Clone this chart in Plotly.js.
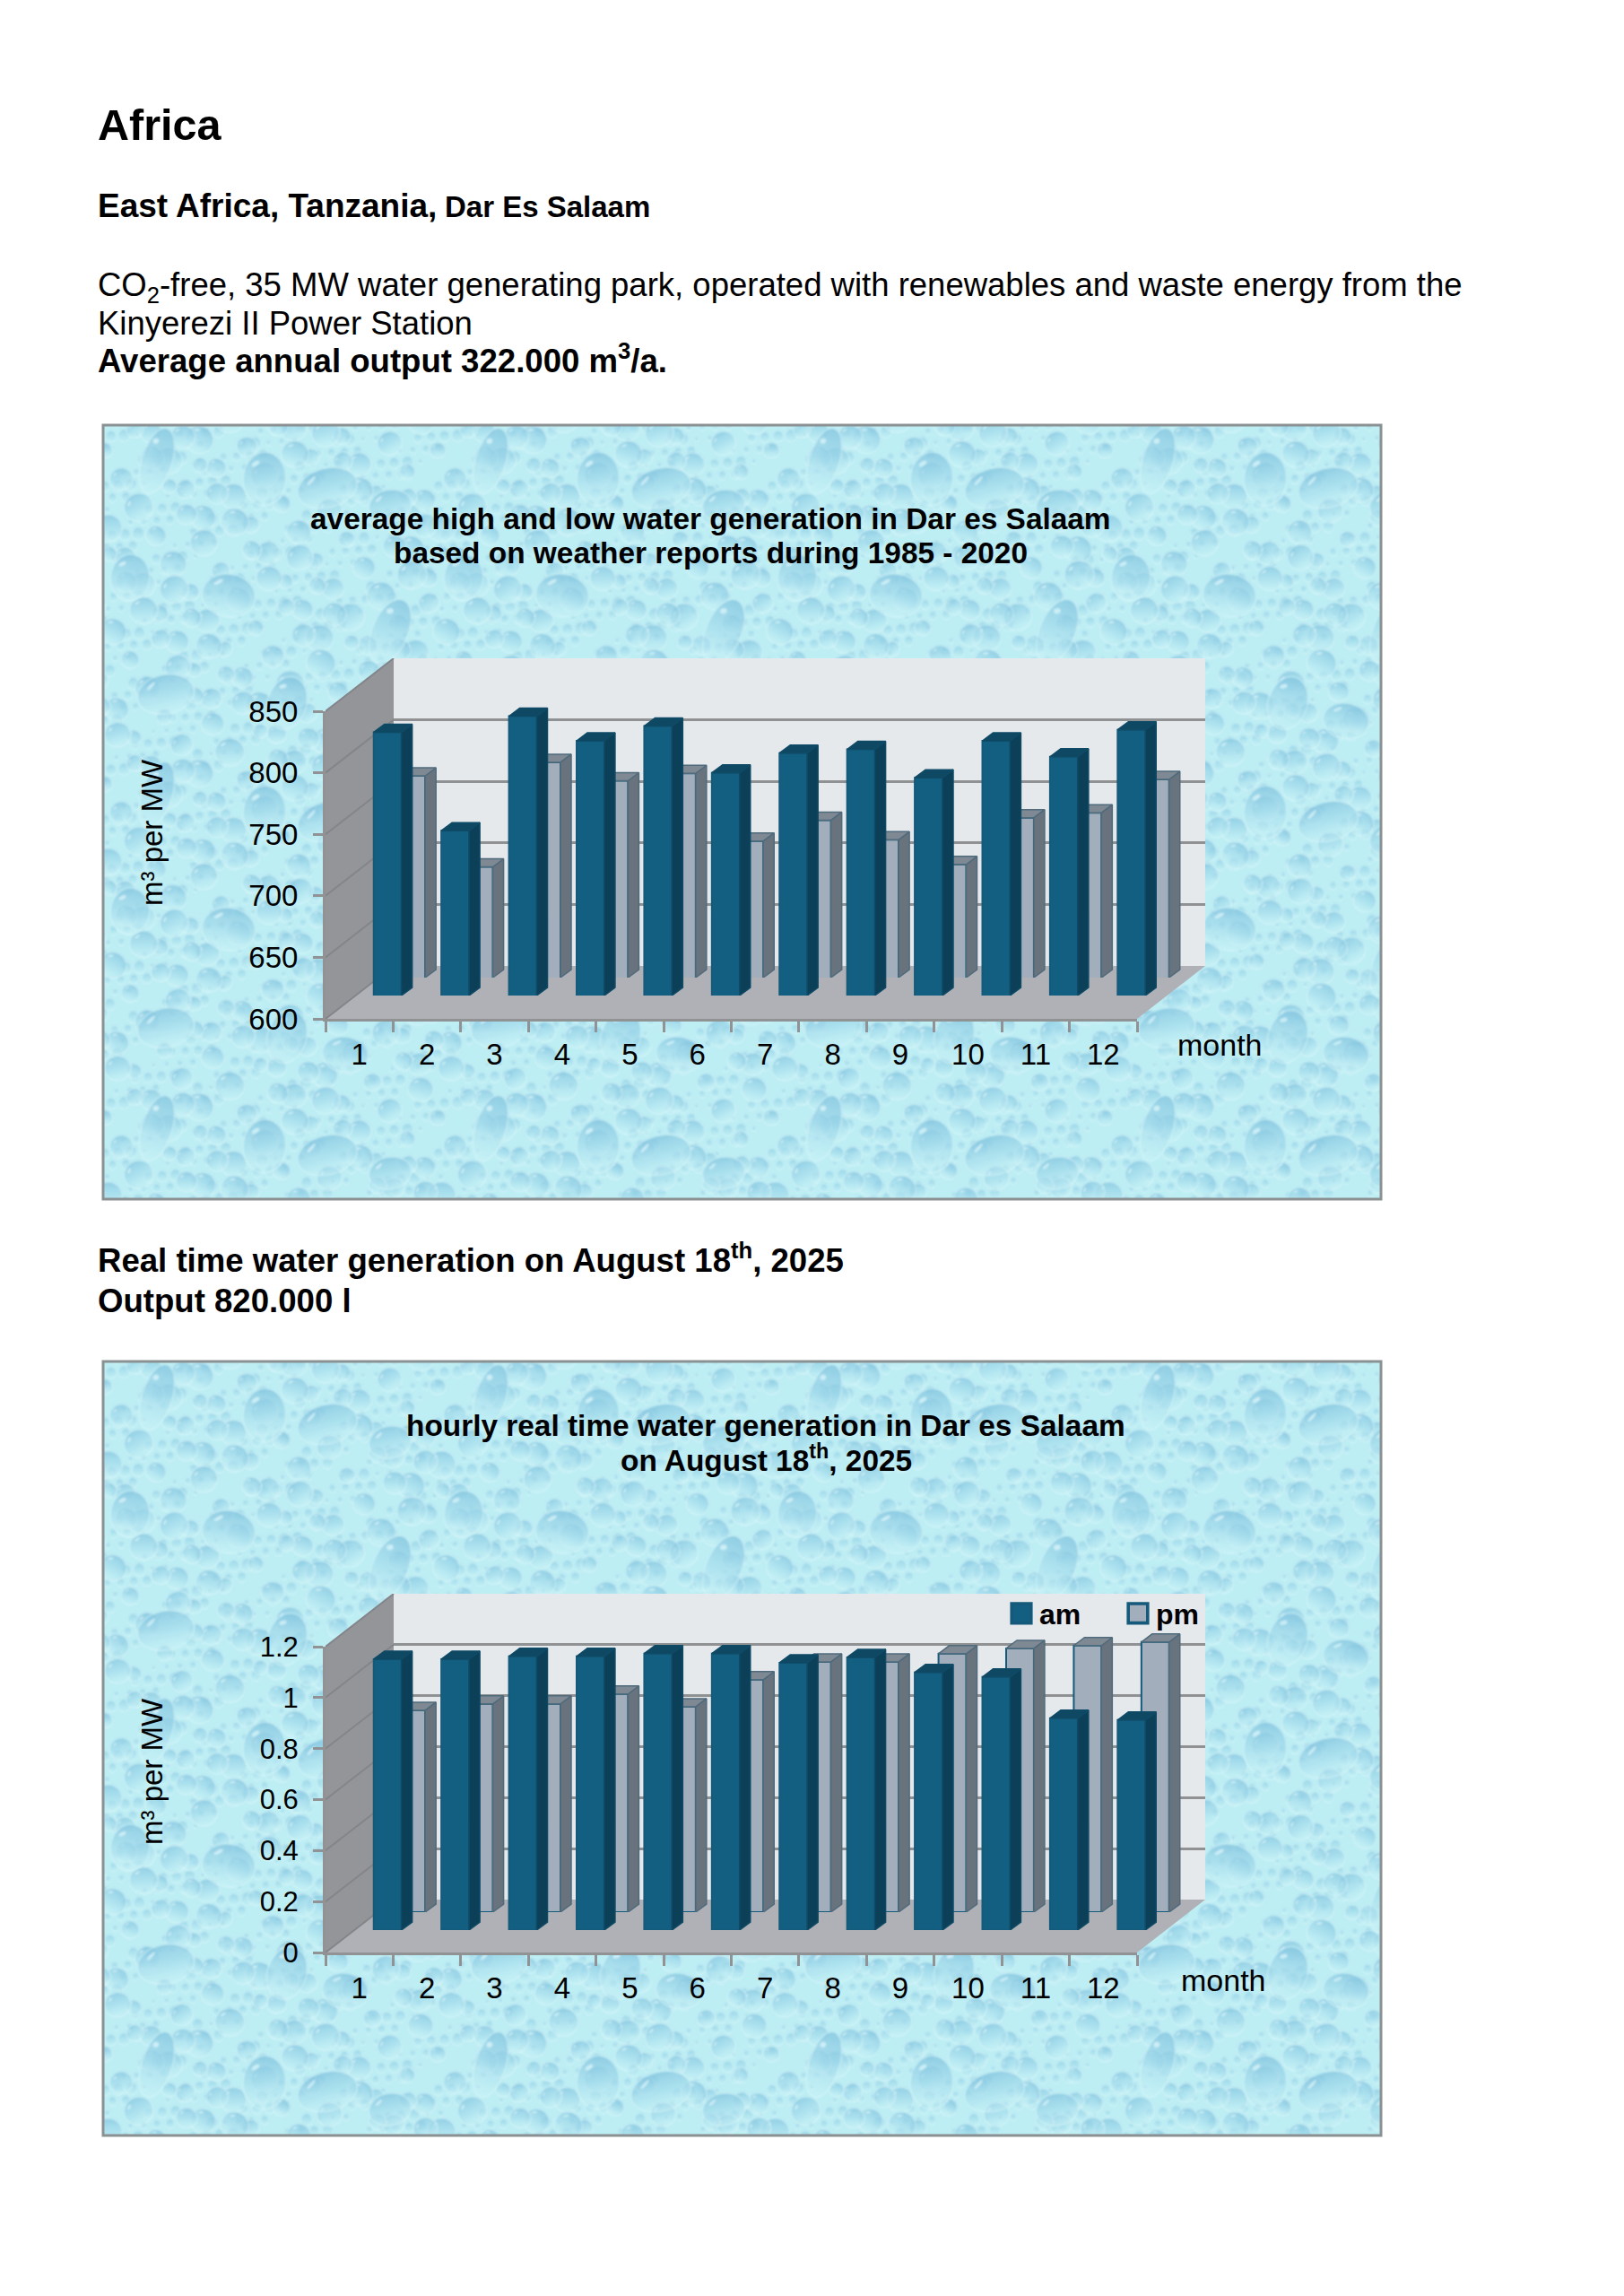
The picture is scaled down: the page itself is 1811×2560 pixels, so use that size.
<!DOCTYPE html>
<html><head><meta charset="utf-8">
<script src="https://cdn.plot.ly/plotly-3.0.1.min.js"></script>
<style>html,body{margin:0;padding:0;background:#fff}#c{width:1811px;height:2560px}</style>
</head><body><div id="c"></div>
<script>
const months=[1,2,3,4,5,6,7,8,9,10,11,12];
const monthLabels=['1','2','3','4','5','6','7','8','9','10','11','12'];
const chart1High=[814,734,827,807,819,781,797,800,777,807,794,816];
const chart1Low=[764,690,775,760,766,711,728,712,692,730,734,761];
const chart2Am=[1.063,1.063,1.074,1.074,1.085,1.085,1.049,1.07,1.011,0.993,0.831,0.824];
const chart2Pm=[0.792,0.817,0.817,0.856,0.806,0.912,0.982,0.982,1.014,1.035,1.046,1.06];
const chart1Ticks=[600,650,700,750,800,850];
const chart2Ticks=[0,0.2,0.4,0.6,0.8,1,1.2];
const chart2TickText=['0','0.2','0.4','0.6','0.8','1','1.2'];

const W=1811,H=2560,FONT='"Liberation Sans", Arial, sans-serif';
const px=x=>x/W, py=y=>1-y/H;

// decorative water-drop background, deterministic (not data)
function texture(w,h){
  const T=372, tile=document.createElement('canvas');tile.width=T;tile.height=T;
  const g=tile.getContext('2d');
  g.fillStyle='#bdeef4';g.fillRect(0,0,T,T);
  g.filter='blur(1px)';
  function drop(x,y,rx,ry,rot,a,shine){
    for(const [ox,oy] of [[0,0],[T,0],[-T,0],[0,T],[0,-T]]){
      g.save();g.translate(x+ox,y+oy);g.rotate(rot);
      const lg=g.createLinearGradient(0,-ry,0,ry);
      lg.addColorStop(0,'rgba(128,194,222,'+a+')');
      lg.addColorStop(.55,'rgba(165,220,236,'+a*.8+')');
      lg.addColorStop(1,'rgba(210,246,249,'+a*.5+')');
      g.fillStyle=lg;g.beginPath();g.ellipse(0,0,rx,ry,0,0,Math.PI*2);g.fill();
      g.strokeStyle='rgba(222,250,252,'+a*.75+')';g.lineWidth=1.4;g.stroke();
      if(shine){
        g.fillStyle='rgba(236,254,255,.6)';g.beginPath();
        g.ellipse(-rx*.45,-ry*.55,rx*.2,ry*.08,-.6,0,Math.PI*2);g.fill();
      }
      g.restore();
    }
  }
  for(let i=1;i<=420;i++){
    const x=(i*0.6180339%1)*T,y=(i*0.7548777%1)*T,r=2.5+(i*0.5698403%1)*4.5;
    drop(x,y,r,r*1.1,0,.55,false);
  }
  for(let i=1;i<=130;i++){
    const x=(i*0.3247179%1)*T,y=(i*0.8191725%1)*T,r=8+(i*0.4301597%1)*8;
    drop(x,y,r*1.05,r,(i%5-2)*.25,.7,true);
  }
  [[60,40,17,38,.3],[250,70,34,22,-.25],[140,190,30,24,.15],[320,230,20,38,.4],[70,300,32,22,-.2],[205,310,22,30,.3],[180,60,24,30,.05],[320,90,24,18,-.2],[30,170,22,26,.1],[270,330,26,20,.2]]
    .forEach(d=>drop(d[0],d[1],d[2],d[3],d[4],.75,true));
  const c=document.createElement('canvas');c.width=w;c.height=h;
  const q=c.getContext('2d');
  for(let x=0;x<w;x+=T)for(let y=0;y<h;y+=T)q.drawImage(tile,x,y);
  return c.toDataURL('image/png');
}

const traces=[],shapes=[],annotations=[],images=[];
const layout={width:W,height:H,margin:{l:0,r:0,t:0,b:0},paper_bgcolor:'#fff',plot_bgcolor:'rgba(0,0,0,0)',
  showlegend:true,barmode:'overlay',hovermode:false,font:{family:FONT,color:'#000',size:30},
  shapes,annotations,images,
  legend:{orientation:'h',x:px(1119),y:py(1799),xanchor:'left',yanchor:'middle',bgcolor:'rgba(0,0,0,0)',
    font:{family:FONT,size:32,weight:700,color:'#000'},entrywidth:85,entrywidthmode:'pixels',itemwidth:30,traceorder:'reversed'}};

function text(t,x,y,size,opt){
  annotations.push(Object.assign({text:t,xref:'paper',yref:'paper',x:px(x),y:py(y),showarrow:false,
    xanchor:'left',yanchor:'middle',align:'left',font:{family:FONT,size:size,color:'#000'}},opt||{}));
}

function chart(o){
  const n=o.axisStart, id=k=>k===1?'':String(k);
  const X0=363,X1=1268, cat=(X1-X0)/12, unit=(o.yBottom-o.yTop)/(o.range[1]-o.range[0]);
  const DX=76/cat, DY=59/unit, lo=o.range[0], hi=o.range[1];
  const axisId=k=>({x:'x'+id(n+k),y:'y'+id(n+k),xa:'xaxis'+id(n+k),ya:'yaxis'+id(n+k)});
  const rows=[{dx:0,dy:0},{dx:0,dy:0},{dx:76,dy:59},{dx:58,dy:o.pmLift},{dx:31.5,dy:o.amLift}];
  rows.forEach((r,k)=>{
    const a=axisId(k);
    layout[a.xa]={anchor:a.y,domain:[px(X0+r.dx),px(X1+r.dx)],range:[0.5,12.5],fixedrange:true,
      showgrid:false,zeroline:false,showticklabels:false,ticks:'',showline:false};
    layout[a.ya]={anchor:a.x,domain:[py(o.yBottom-r.dy),py(o.yTop-r.dy)],range:o.range,fixedrange:true,
      showgrid:false,zeroline:false,showticklabels:false,ticks:'',showline:false};
  });
  const room=axisId(0),main=axisId(1),wall=axisId(2),pm=axisId(3),am=axisId(4);
  // the room axes span the whole box, same scale as the front axes
  layout[room.xa].domain=[px(X0),px(X1+76)];layout[room.xa].range=[.5,12.5+DX];
  layout[room.ya].domain=[py(o.yBottom),py(o.yTop-59)];layout[room.ya].range=[lo,hi+DY];
  Object.assign(layout[main.xa],{showticklabels:true,tickmode:'array',tickvals:months,ticktext:monthLabels,
    ticks:'',ticklabelstandoff:8,showline:true,linecolor:'#909294',linewidth:3,
    tickfont:{family:FONT,size:33,color:'#000'},
    minor:{tickmode:'array',tickvals:[.5,1.5,2.5,3.5,4.5,5.5,6.5,7.5,8.5,9.5,10.5,11.5,12.5],ticks:'outside',ticklen:12,tickwidth:3,tickcolor:'#909294',showgrid:false}});
  Object.assign(layout[main.ya],{showticklabels:true,tickmode:'array',tickvals:o.ticks,ticktext:o.tickText,
    ticks:'outside',ticklen:11,tickwidth:3,tickcolor:'#909294',ticklabelstandoff:10,showline:true,linecolor:'#909294',linewidth:3,
    tickfont:{family:FONT,size:o.tickSize,color:'#000'}});
  Object.assign(layout[wall.ya],{showgrid:true,gridcolor:'#8f9193',gridwidth:3,tickmode:'array',tickvals:o.ticks});

  images.push({source:texture(1425,o.pBottom-o.pTop),xref:'paper',yref:'paper',x:px(115),y:py(o.pTop),
    sizex:1425/W,sizey:(o.pBottom-o.pTop)/H,sizing:'stretch',layer:'below',xanchor:'left',yanchor:'top'});
  shapes.push({type:'rect',xref:'paper',yref:'paper',x0:px(115),x1:px(1540),y0:py(o.pTop),y1:py(o.pBottom),
    line:{color:'#8b9192',width:3},fillcolor:'rgba(0,0,0,0)',layer:'below'});
  shapes.push({type:'rect',xref:wall.x+' domain',yref:wall.y+' domain',x0:0,x1:1,y0:0,y1:1,
    fillcolor:'#e6e9ec',line:{width:0},layer:'below'});

  const base={type:'scatter',mode:'lines',showlegend:false,hoverinfo:'skip'};
  traces.push(Object.assign({},base,{xaxis:room.x,yaxis:room.y,
    x:[.5,.5+DX,.5+DX,.5,.5],y:[lo,lo+DY,hi+DY,hi,lo],fill:'toself',fillcolor:'#939598',line:{width:0}}));
  traces.push(Object.assign({},base,{xaxis:room.x,yaxis:room.y,
    x:[.5,12.5,12.5+DX,.5+DX,.5],y:[lo,lo,lo+DY,lo+DY,lo],fill:'toself',fillcolor:'#b0b1b6',line:{width:0}}));
  const sx=[],sy=[];
  o.ticks.forEach(t=>{sx.push(.5,.5+DX,null);sy.push(t,t+DY,null);});
  traces.push(Object.assign({},base,{xaxis:room.x,yaxis:room.y,x:sx,y:sy,line:{color:'#83858a',width:2}}));
  // carriers so that the front and wall axes exist
  traces.push(Object.assign({},base,{xaxis:main.x,yaxis:main.y,x:months,y:months.map(()=>lo),line:{width:0}}));
  traces.push(Object.assign({},base,{xaxis:wall.x,yaxis:wall.y,x:months,y:months.map(()=>lo),line:{width:0}}));

  // a series: real bar trace for the front, side and top faces from the same values
  function series(vals,axes,name,front,side,top,edge,legend){
    const w=.41, ddx=12/cat, ddy=9/unit;
    const xs=[],ys=[],xt=[],yt=[];
    months.forEach((m,i)=>{
      const r=m+w/2,l=m-w/2,v=vals[i];
      xs.push(r,r+ddx,r+ddx,r,r,null);ys.push(lo,lo+ddy,v+ddy,v,lo,null);
      xt.push(l,r,r+ddx,l+ddx,l,null);yt.push(v,v,v+ddy,v+ddy,v,null);
    });
    traces.push(Object.assign({},base,{xaxis:axes.x,yaxis:axes.y,x:xs,y:ys,fill:'toself',fillcolor:side,line:{color:edge,width:1.5}}));
    traces.push(Object.assign({},base,{xaxis:axes.x,yaxis:axes.y,x:xt,y:yt,fill:'toself',fillcolor:top,line:{color:edge,width:1.5}}));
    traces.push({type:'bar',name:name,showlegend:legend,xaxis:axes.x,yaxis:axes.y,x:months,y:vals,width:w,
      marker:{color:front,line:{color:'#155a7a',width:2}}});
  }
  series(o.low,pm,o.names[1],'#a2aebb','#69737e','#7f8994','#4f6b7c',o.legend);
  series(o.high,am,o.names[0],'#135f82','#0c3f58','#0e4863','#0f4a66',o.legend);
  text('m³ per MW',169,o.yTitle,33,{textangle:-90,xanchor:'center',align:'center'});
  text('month',o.monthX,o.monthY,34,{xanchor:'center',align:'center'});
  o.title.forEach((t,i)=>text('<b>'+t[0]+'</b>',o.titleX,o.titleY+i*38.5+t[1],33.4,{xanchor:'center',align:'center'}));
}

chart({axisStart:1,yTop:793,yBottom:1136,range:[600,850],ticks:chart1Ticks,tickText:chart1Ticks.map(String),tickSize:33,
  amLift:26,pmLift:46,high:chart1High,low:chart1Low,names:['high','low'],legend:false,pTop:474,pBottom:1337,
  yTitle:928,monthX:1360,monthY:1165,titleX:792,titleY:578,
  title:[['average high and low water generation in Dar es Salaam',0],['based on weather reports during 1985 - 2020',0]]});
chart({axisStart:6,yTop:1836,yBottom:2177,range:[0,1.2],ticks:chart2Ticks,tickText:chart2TickText,tickSize:31,
  amLift:25,pmLift:45,high:chart2Am,low:chart2Pm,names:['am','pm'],legend:true,pTop:1518,pBottom:2381,
  yTitle:1975,monthX:1364,monthY:2208,titleX:854,titleY:1589,
  title:[['hourly real time water generation in Dar es Salaam',0],['on August 18<sup>th</sup>, 2025',-2]]});

text('<b>Africa</b>',107,139,48.5);
text('<b>East Africa, Tanzania,</b>',107,229,37);
text('<b>Dar Es Salaam</b>',494,230,33);
text('CO<sub>2</sub>-free, 35 MW water generating park, operated with renewables and waste energy from the',107,320,36.5);
text('Kinyerezi II Power Station',107,361,36.5);
text('<b>Average annual output 322.000 m<sup>3</sup>/a.</b>',107,400,36.6);
text('<b>Real time water generation on August 18<sup>th</sup>, 2025</b>',107,1403,36.6);
text('<b>Output 820.000 l</b>',107,1450,36.6);

Plotly.newPlot('c',traces,layout,{staticPlot:true,displayModeBar:false}).then(()=>{
  // the reference's legend keys are larger than Plotly's fixed 12 px bar key
  document.querySelectorAll('.legend .legendpoints path').forEach(p=>{
    p.setAttribute('transform',(p.getAttribute('transform')||'')+' scale(1.8)');
  });
});
</script></body></html>
